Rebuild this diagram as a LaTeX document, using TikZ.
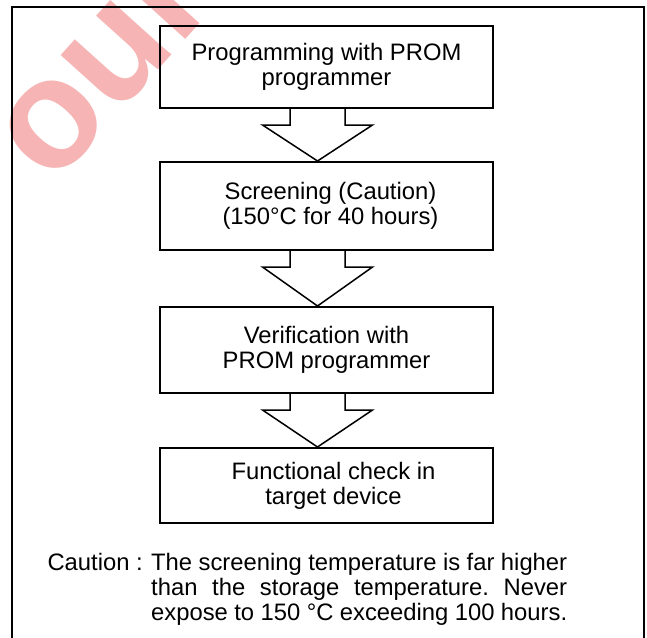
\documentclass[tikz,border=0pt]{standalone}
\usepackage{fontspec}
\setmainfont{Liberation Sans}
\usetikzlibrary{calc}
\definecolor{wm}{RGB}{247,180,180}
\tikzset{
  txt/.style={font=\fontsize{23.8}{25}\selectfont\frenchspacing, inner sep=0pt},
  stepbox/.style={txt, draw=black, line width=2pt, minimum width=333pt, align=center},
  blockarr/.style={draw=black, line width=1.5pt, line join=miter},
  frame/.style={draw=black, line width=2.5pt},
  wmark/.style={font=\fontsize{155}{155}\selectfont\bfseries, text=wm, inner sep=0pt, rotate=48, anchor=base west}
}
\begin{document}
\begin{tikzpicture}[x=1pt,y=-1pt]
\clip (0,0) rectangle (647,637);
\fill[white] (0,0) rectangle (647,637);
% watermark
\node[wmark] (wm) at (52,188) {our};
% frame (open at the bottom)
\coordinate (fbl) at (12,650);
\coordinate (ftl) at (12,7);
\coordinate (ftr) at (644,7);
\coordinate (fbr) at (644,650);
\draw[frame] (fbl) -- (ftl) -- (ftr) -- (fbr);
% boxes
\node[stepbox, minimum height=82pt] (b1) at (326.5,67) {Programming with PROM\\programmer};
\node[stepbox, minimum height=88pt] (b2) at (326.5,206) {\hspace*{8pt}Screening (Caution)\\\hspace*{8pt}(150°C for 40 hours)};
\node[stepbox, minimum height=86pt] (b3) at (326.5,350) {Verification with\\PROM programmer};
\node[stepbox, minimum height=75pt] (b4) at (326.5,485.5) {\hspace*{14pt}Functional check in\\\hspace*{14pt}target device};
% block arrows
\coordinate (ax) at (317.5,0);
\foreach \u/\v in {b1/b2,b2/b3,b3/b4}{
  \draw[blockarr] ($(\u.south -| ax)+(-27.5,0)$) -- ++(0,16) -- ++(-27.5,0)
    -- (\v.north -| ax) -- ($(\u.south -| ax)+(55,16)$) -- ++(-27.5,0) -- ++(0,-16);
}
% caution note
\node[txt, anchor=base east] (cl) at (143,570) {Caution :};
\node[txt, anchor=base west] (c1) at (151,570) {\makebox[416pt][s]{The screening temperature is far higher}};
\node[txt, anchor=base west] (c2) at (151,595) {\makebox[416pt][s]{than the storage temperature. Never}};
\node[txt, anchor=base west] (c3) at (151,620) {\makebox[416pt][s]{expose to 150 °C exceeding 100 hours.}};
\end{tikzpicture}
\end{document}
